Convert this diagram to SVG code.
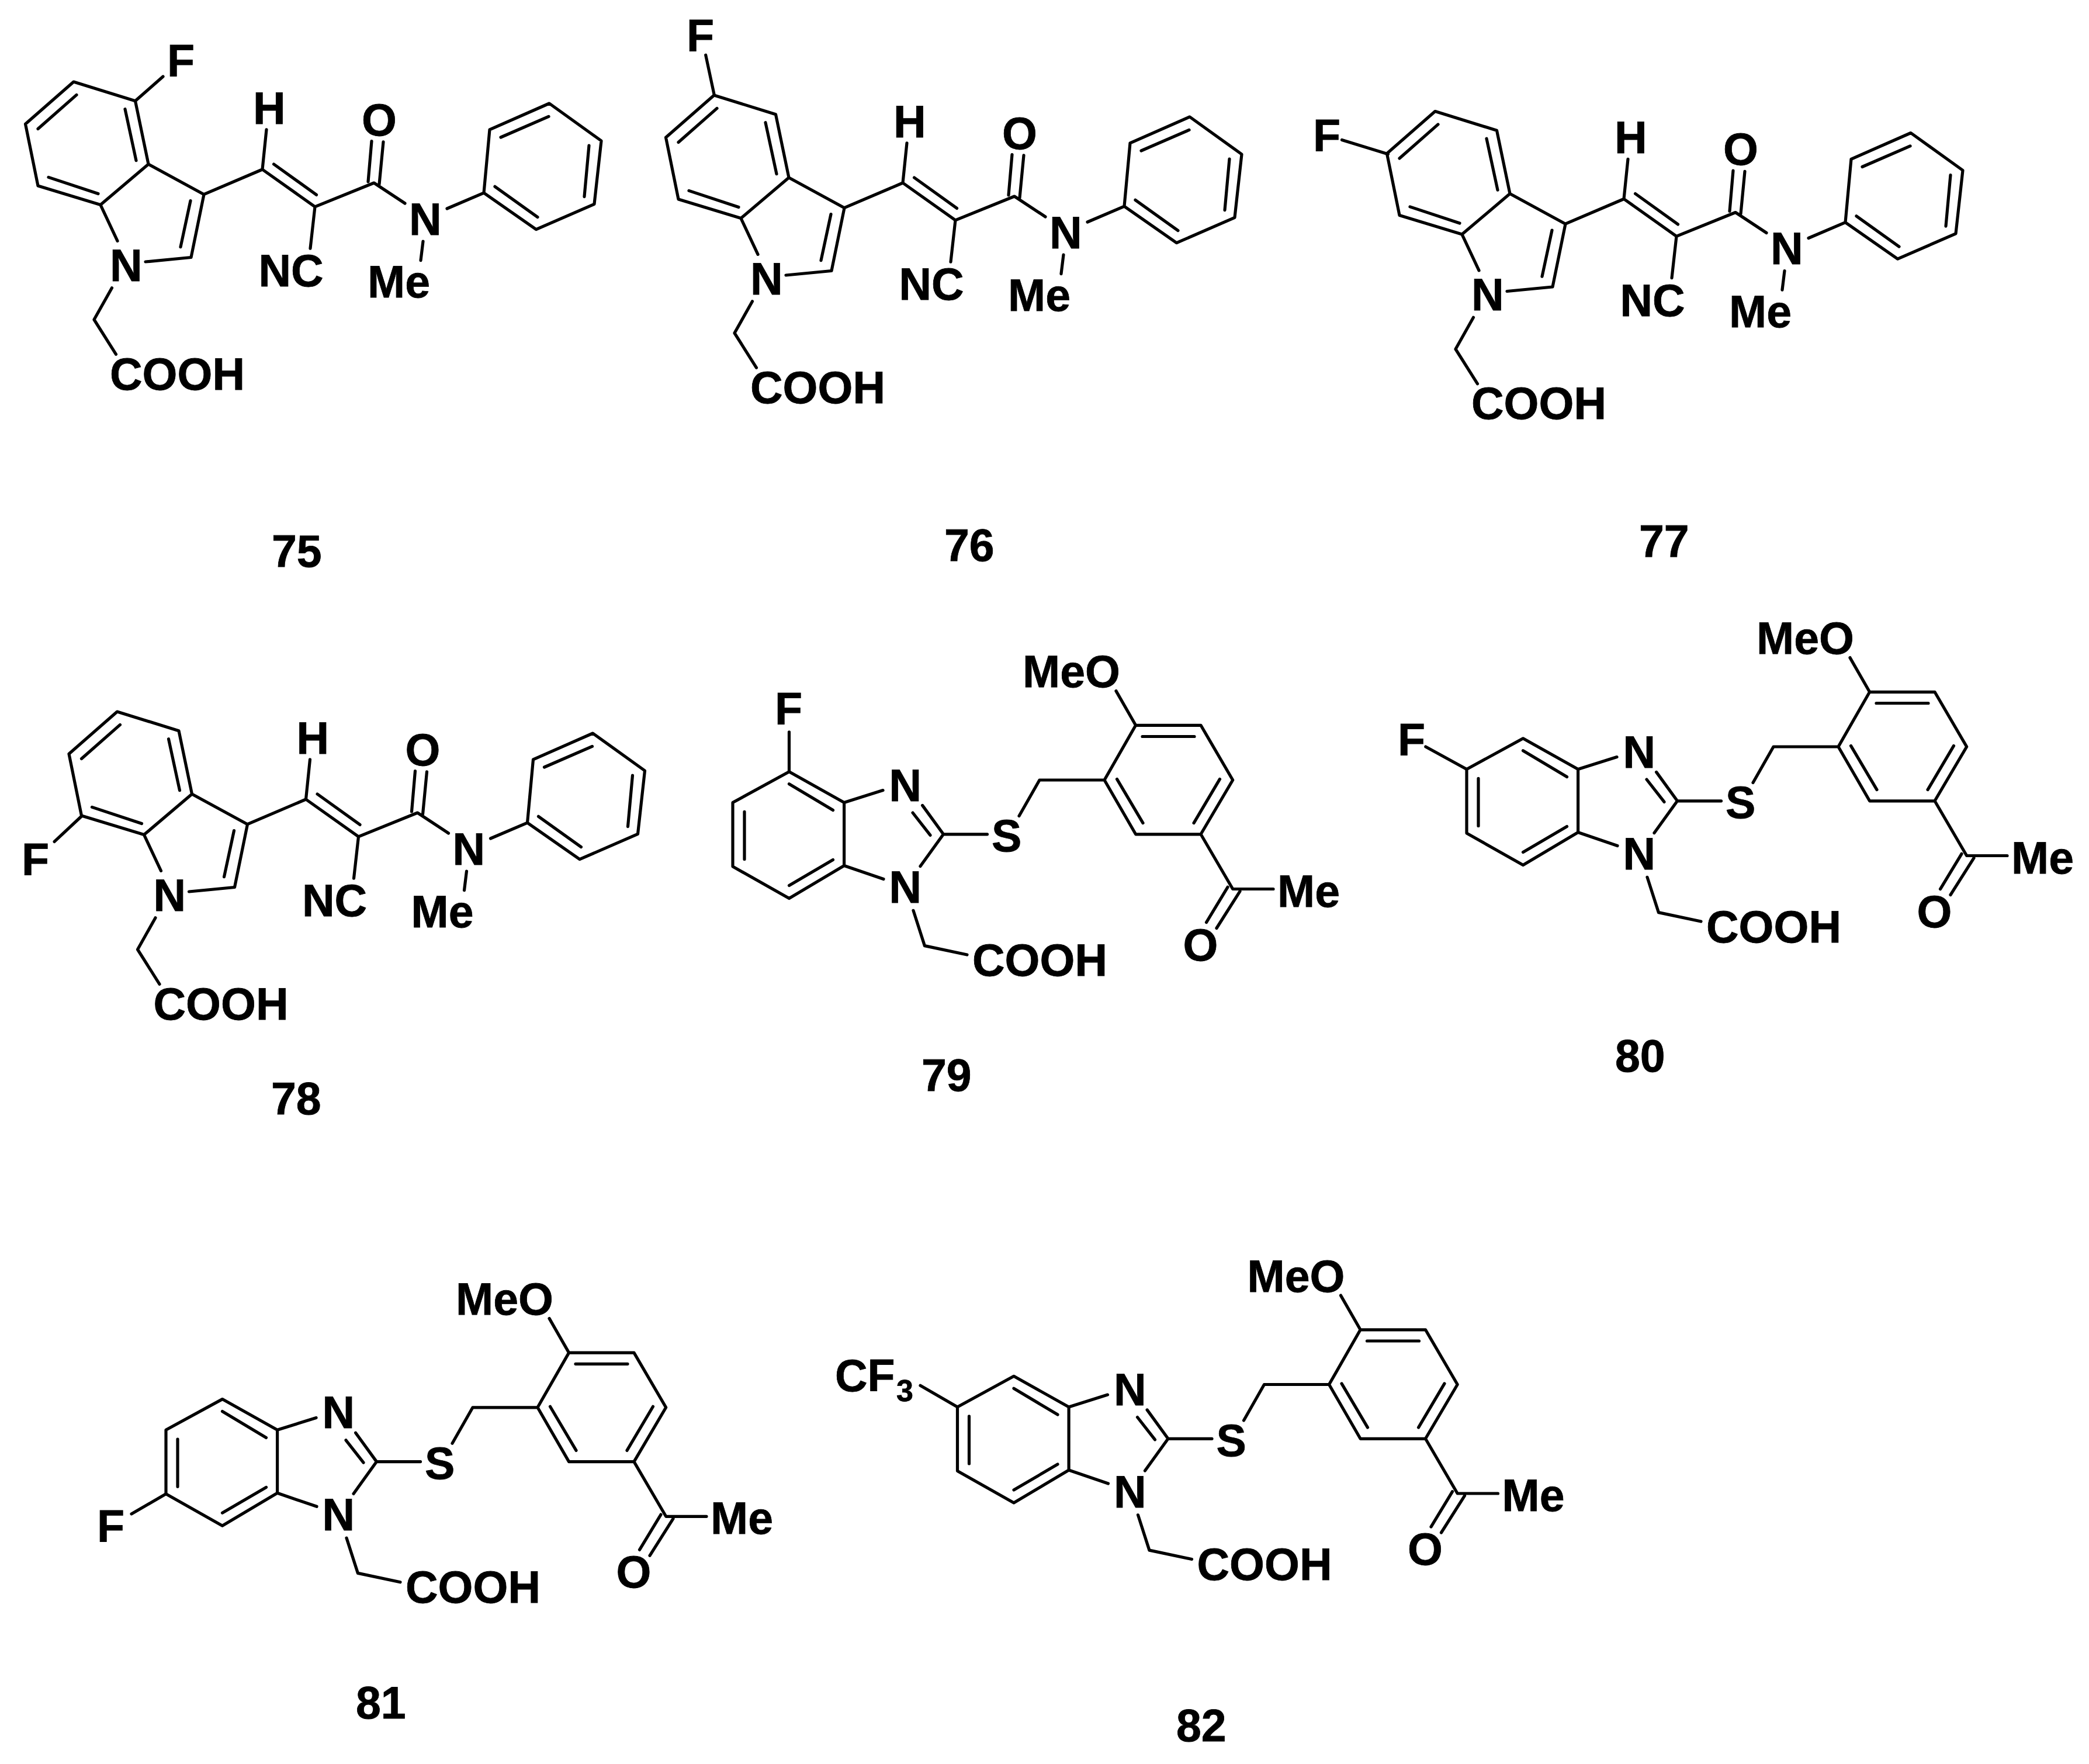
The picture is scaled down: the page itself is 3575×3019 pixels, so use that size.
<svg xmlns="http://www.w3.org/2000/svg" width="3575" height="3019" viewBox="0 0 3575 3019">
<style>
.b{fill:none;stroke:#000;stroke-width:5.2;stroke-linecap:round;stroke-linejoin:round}
text{font-family:"Liberation Sans",Arial,sans-serif;font-weight:700;font-size:77px;fill:#000;stroke:#000;stroke-width:.8}
.s{font-size:52px}
</style>
<defs>
<path id="indole" class="b" d="M126 140L231.5 172.7L254 281L172 350.6L65 318L43.5 212.2ZM131 162.4L65 220.5M83 303.4L168 331.5M214 186.7L233 274.7M254 281L349 332.7L327 440.5L249 448M172 350.6L201 412.4M326 343.6L309 422.7M191.5 492.8L161 547L198.5 606.3M349 332.7L449 290L456 221.8M449 290L539 353.8L640 313L693 348M468.6 281L541.5 333.4M539 353.8L531 425.2M630 311L636 241.5M649 315.5L656 242.8M724 413L720 445.6M765 357L828 330.2M828 330.2L838 221.8L940 177L1029 241L1017 349.3L917.5 392.7ZM857 235L939 199.4M1008 249L1000 336.6M920 371.6L847 319.3"/>
<path id="bzim" class="b" d="M1350.5 1320.8L1444.6 1373.5L1444.6 1481.5L1350.5 1537.5L1254 1483L1254 1373.5ZM1350.5 1341.7L1425.5 1386.6M1274 1389.4L1274 1470.5M1350.5 1515.5L1425.5 1471.6M1444.6 1373.5L1511 1352.6M1444.6 1481.5L1512 1504.5M1578.6 1378.4L1614.5 1427.8L1575 1482.6M1592 1429.4L1562 1391M1614.5 1427.8L1689.5 1427.8M1744 1396.5L1779 1335L1890 1335M1890 1335L1943.6 1241.3L2055 1241.3L2109.7 1335L2055 1427.8L1943.6 1427.8ZM1955 1260.5L2044 1260.5M2087.5 1333.4L2043 1408.6M1956 1408.6L1911.5 1333.4M1943.6 1241.3L1910 1182.6M2055 1427.8L2109.7 1521.5L2179 1521.5M2101 1518.3L2064.5 1578.6M2122 1525.4L2082 1588.5M1563 1558.3L1582.4 1618.6L1655 1634"/>
</defs>

<g id="mol-75">
<use href="#indole"/>
<path class="b" d="M231.5 172.7L279 131"/>
<text x="286" y="130.5">F</text>
<text x="188" y="480.5">N</text><text x="433" y="211.5">H</text><text x="619" y="231.5">O</text><text x="442.5" y="490">NC</text><text x="700" y="401.5">N</text><text x="629" y="509">Me</text><text x="188" y="666.7">COOH</text>
<text x="465" y="970">75</text>
</g>

<g id="mol-76">
<g transform="translate(1096 23)">
<use href="#indole"/>
<text x="188" y="480.5">N</text><text x="433" y="211.5">H</text><text x="619" y="231.5">O</text><text x="442.5" y="490">NC</text><text x="700" y="401.5">N</text><text x="629" y="509">Me</text><text x="188" y="666.7">COOH</text>
</g>
<path class="b" d="M1222.4 163L1207.7 94.2"/>
<text x="1175" y="87.5">F</text>
<text x="1616" y="959.5">76</text>
</g>

<g id="mol-77">
<g transform="translate(2330 50.5)">
<use href="#indole"/>
<text x="188" y="480.5">N</text><text x="433" y="211.5">H</text><text x="619" y="231.5">O</text><text x="442.5" y="490">NC</text><text x="700" y="401.5">N</text><text x="629" y="509">Me</text><text x="188" y="666.7">COOH</text>
</g>
<path class="b" d="M2375.4 263.8L2296.5 239.4"/>
<text x="2247" y="258.5">F</text>
<text x="2805" y="952.5">77</text>
</g>

<g id="mol-78">
<g transform="translate(74.5 1078)">
<use href="#indole"/>
<text x="188" y="480.5">N</text><text x="433" y="211.5">H</text><text x="619" y="231.5">O</text><text x="442.5" y="490">NC</text><text x="700" y="401.5">N</text><text x="629" y="509">Me</text><text x="188" y="666.7">COOH</text>
</g>
<path class="b" d="M140 1396.5L93.1 1440.4"/>
<text x="37" y="1498">F</text>
<text x="464" y="1907">78</text>
</g>

<g id="mol-79">
<use href="#bzim"/>
<text x="1521.5" y="1370.5">N</text><text x="1521.5" y="1545">N</text><text x="1697" y="1457">S</text><text x="1750" y="1176">MeO</text><text x="2186" y="1551.5">Me</text><text x="2024.5" y="1643.5">O</text><text x="1664" y="1669.5">COOH</text>
<path class="b" d="M1350.5 1320.8L1350.5 1252.8"/>
<text x="1326" y="1240">F</text>
<text x="1577" y="1867">79</text>
</g>

<g id="mol-80">
<g transform="translate(1256 -57)">
<use href="#bzim"/>
<text x="1521.5" y="1370.5">N</text><text x="1521.5" y="1545">N</text><text x="1697" y="1457">S</text><text x="1750" y="1176">MeO</text><text x="2186" y="1551.5">Me</text><text x="2024.5" y="1643.5">O</text><text x="1664" y="1669.5">COOH</text>
</g>
<path class="b" d="M2510 1316.5L2439.8 1278"/>
<text x="2392" y="1292.5">F</text>
<text x="2764" y="1833.5">80</text>
</g>

<g id="mol-81">
<g transform="translate(-970 1073.8)">
<use href="#bzim"/>
<text x="1521.5" y="1370.5">N</text><text x="1521.5" y="1545">N</text><text x="1697" y="1457">S</text><text x="1750" y="1176">MeO</text><text x="2186" y="1551.5">Me</text><text x="2024.5" y="1643.5">O</text><text x="1664" y="1669.5">COOH</text>
</g>
<path class="b" d="M284 2556.8L225 2591"/>
<text x="166" y="2638.5">F</text>
<text x="609" y="2941">81</text>
</g>

<g id="mol-82">
<g transform="translate(384.5 1034.5)">
<use href="#bzim"/>
<text x="1521.5" y="1370.5">N</text><text x="1521.5" y="1545">N</text><text x="1697" y="1457">S</text><text x="1750" y="1176">MeO</text><text x="2186" y="1551.5">Me</text><text x="2024.5" y="1643.5">O</text><text x="1664" y="1669.5">COOH</text>
</g>
<path class="b" d="M1638.5 2408L1575 2371.3"/>
<text x="1429" y="2381">CF</text><text class="s" x="1534" y="2398">3</text>
<text x="2013" y="2980">82</text>
</g>
</svg>
